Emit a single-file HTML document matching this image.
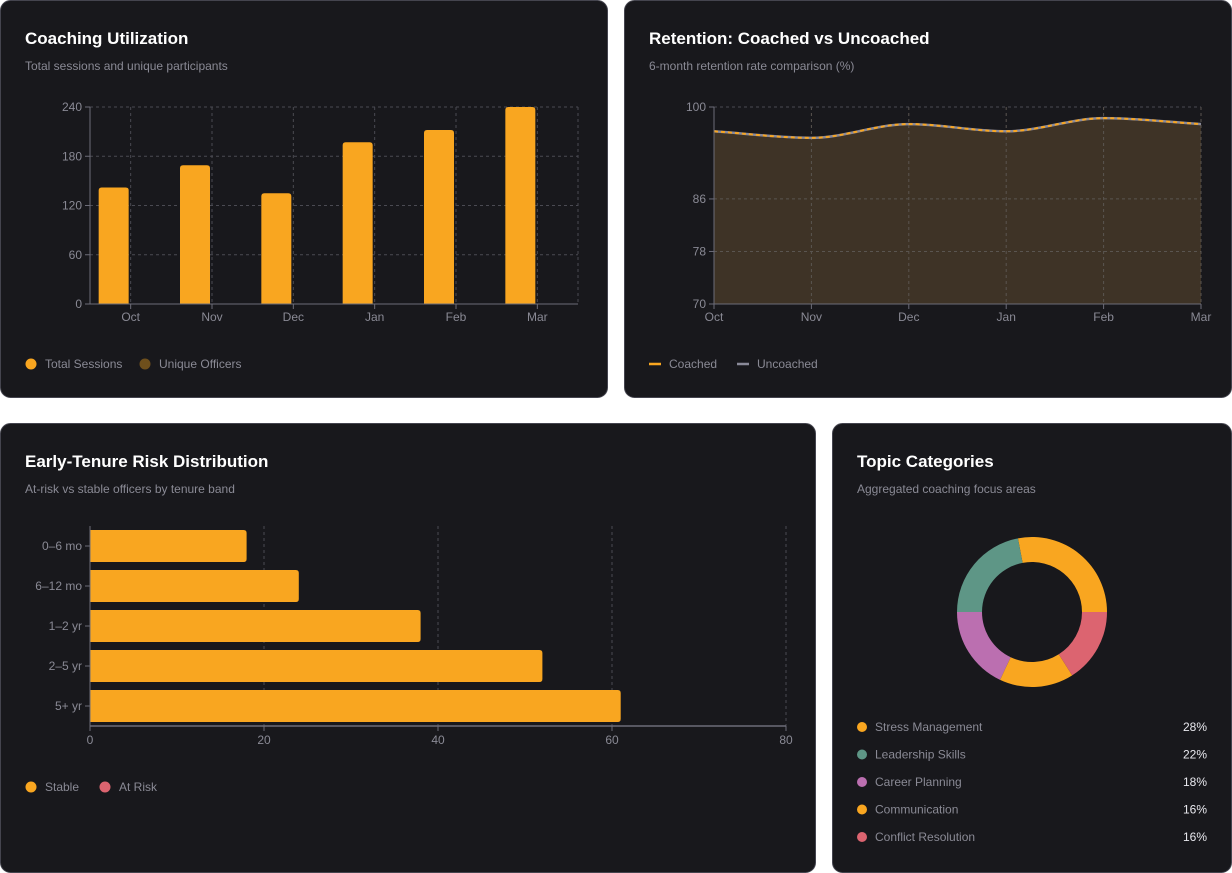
<!DOCTYPE html>
<html><head><meta charset="utf-8">
<style>
body{margin:0;background:#fff;width:1232px;height:873px;overflow:hidden;font-family:"Liberation Sans",sans-serif}
svg{display:block}
text{font-family:"Liberation Sans",sans-serif}
</style></head>
<body>
<svg id="s" width="1232" height="873">
<rect x="0.5" y="0.5" width="607" height="397" rx="10" fill="#18181c" stroke="#44444e"/>
<rect x="624.5" y="0.5" width="607" height="397" rx="10" fill="#18181c" stroke="#44444e"/>
<rect x="0.5" y="423.5" width="815" height="449" rx="10" fill="#18181c" stroke="#44444e"/>
<rect x="832.5" y="423.5" width="399" height="449" rx="10" fill="#18181c" stroke="#44444e"/>

<text x="25" y="44" fill="#fff" font-size="17" font-weight="bold">Coaching Utilization</text>
<text x="25" y="70" fill="#8a8a95" font-size="12">Total sessions and unique participants</text>
<text x="649" y="44" fill="#fff" font-size="17" font-weight="bold">Retention: Coached vs Uncoached</text>
<text x="649" y="70" fill="#8a8a95" font-size="12">6-month retention rate comparison (%)</text>
<text x="25" y="467" fill="#fff" font-size="17" font-weight="bold">Early-Tenure Risk Distribution</text>
<text x="25" y="493" fill="#8a8a95" font-size="12">At-risk vs stable officers by tenure band</text>
<text x="857" y="467" fill="#fff" font-size="17" font-weight="bold">Topic Categories</text>
<text x="857" y="493" fill="#8a8a95" font-size="12">Aggregated coaching focus areas</text>

<g id="g1"></g><g id="g2"></g><g id="g3"></g><g id="g4"></g>

<g>
<circle cx="31" cy="364" r="5.5" fill="#f9a620"/><text x="45" y="368" fill="#8a8a95" font-size="12">Total Sessions</text>
<circle cx="145" cy="364" r="5.5" fill="#6e4f1c"/><text x="159" y="368" fill="#8a8a95" font-size="12">Unique Officers</text>
</g>
<g>
<line x1="649" y1="364" x2="661" y2="364" stroke="#f9a620" stroke-width="2.5"/><text x="669" y="368" fill="#8a8a95" font-size="12">Coached</text>
<line x1="737" y1="364" x2="749" y2="364" stroke="#8a8a99" stroke-width="2.5"/><text x="757" y="368" fill="#8a8a95" font-size="12">Uncoached</text>
</g>
<g>
<circle cx="31" cy="787" r="5.5" fill="#f9a620"/><text x="45" y="791" fill="#8a8a95" font-size="12">Stable</text>
<circle cx="105" cy="787" r="5.5" fill="#dc6470"/><text x="119" y="791" fill="#8a8a95" font-size="12">At Risk</text>
</g>
</svg>
<script>
const NS='http://www.w3.org/2000/svg';
function mk(p,t,a){const e=document.createElementNS(NS,t);for(const k in a)e.setAttribute(k,a[k]);p.appendChild(e);return e;}

// Chart 1
const months=['Oct','Nov','Dec','Jan','Feb','Mar'];
const sessions=[142,169,135,197,212,240];
const officers=[0,0,0,0,0,0];
const ticks1=[0,60,120,180,240];
// Chart 2
const coached=[96.3,95.3,97.4,96.3,98.3,97.4];
const uncoached=[96.3,95.3,97.4,96.3,98.3,97.4];
const ticks2=[70,78,86,100];
// Chart 3
const bands=['0–6 mo','6–12 mo','1–2 yr','2–5 yr','5+ yr'];
const stable=[18,24,38,52,61];
const atRisk=[0,0,0,0,0];
const ticks3=[0,20,40,60,80];
// Chart 4
const topics=['Stress Management','Leadership Skills','Career Planning','Communication','Conflict Resolution'];
const shares=[28,22,18,16,16];
const topicColors=['#f9a620','#5e9686','#bb6fb0','#f9a620','#dc6470'];

const grid='#4a4a52', axis='#6c6c78', lbl='#8a8a95';

// ---- chart 1
(function(){
const g=document.getElementById('g1');
const x0=90,x1=578,y0=304,y1=107;
const ys=v=>y0-(v/240)*(y0-y1);
const bw=(x1-x0)/months.length;
ticks1.forEach(t=>{const y=ys(t);
 if(t>0){const l=mk(g,'line',{x1:x0,x2:x1,y1:y,y2:y,stroke:grid,'stroke-dasharray':'3 3'});
 }
 mk(g,'line',{x1:x0-5,x2:x0,y1:y,y2:y,stroke:axis});
 const tx=mk(g,'text',{x:x0-8,y:y+4,fill:lbl,'font-size':12,'text-anchor':'end'});tx.textContent=t;
 });
months.forEach((m,i)=>{const cx=x0+bw*(i+0.5);
 const l=mk(g,'line',{x1:cx,x2:cx,y1:y1,y2:y0,stroke:grid,'stroke-dasharray':'3 3'});
 
 mk(g,'line',{x1:cx,x2:cx,y1:y0,y2:y0+5,stroke:axis});
 const tx=mk(g,'text',{x:cx,y:y0+17,fill:lbl,'font-size':12,'text-anchor':'middle'});tx.textContent=m;
 
 const h=y0-ys(sessions[i]);
 const b=mk(g,'path',{d:`M${cx-32},${y0}V${y0-h+3}q0,-3 3,-3h24q3,0 3,3V${y0}Z`,fill:'#f9a620'});
 
 const h2=y0-ys(officers[i]);
 if(h2>0){const b2=mk(g,'rect',{x:cx+2,y:y0-h2,width:30,height:h2,fill:'#6e4f1c'});
 }
});
mk(g,'line',{x1:x1,x2:x1,y1:y1,y2:y0,stroke:grid,'stroke-dasharray':'3 3'});
mk(g,'line',{x1:x0,x2:x0,y1:y1,y2:y0,stroke:axis});
mk(g,'line',{x1:x0,x2:x1,y1:y0,y2:y0,stroke:axis});
})();

// ---- chart 2
(function(){
const g=document.getElementById('g2');
const x0=714,x1=1201,y0=304,y1=107;
const ys=v=>y0-((v-70)/30)*(y0-y1);
const xs=i=>x0+i*(x1-x0)/(months.length-1);
function mono(vals){
 const p=vals.map((v,i)=>[xs(i),ys(v)]);const n=p.length;
 const d=[],m=[];
 for(let i=0;i<n-1;i++)d.push((p[i+1][1]-p[i][1])/(p[i+1][0]-p[i][0]));
 m[0]=d[0];m[n-1]=d[n-2];
 for(let i=1;i<n-1;i++)m[i]=(d[i-1]*d[i]<=0)?0:2/(1/d[i-1]+1/d[i]);
 let s=`M${p[0][0]},${p[0][1]}`;
 for(let i=0;i<n-1;i++){const h=(p[i+1][0]-p[i][0])/3;
  s+=`C${p[i][0]+h},${p[i][1]+m[i]*h} ${p[i+1][0]-h},${p[i+1][1]-m[i+1]*h} ${p[i+1][0]},${p[i+1][1]}`;}
 return s;}
const area=mk(g,'path',{d:mono(coached)+`L${x1},${y0}L${x0},${y0}Z`,fill:'#3e3326'});

ticks2.forEach(t=>{const y=ys(t);
 if(t>70){const l=mk(g,'line',{x1:x0,x2:x1,y1:y,y2:y,stroke:'#5a5550','stroke-dasharray':'3 3'});
 }
 mk(g,'line',{x1:x0-5,x2:x0,y1:y,y2:y,stroke:axis});
 const tx=mk(g,'text',{x:x0-8,y:y+4,fill:lbl,'font-size':12,'text-anchor':'end'});tx.textContent=t;
 });
months.forEach((m,i)=>{const x=xs(i);
 if(i>0){const l=mk(g,'line',{x1:x,x2:x,y1:y1,y2:y0,stroke:'#5a5550','stroke-dasharray':'3 3'});
 }
 mk(g,'line',{x1:x,x2:x,y1:y0,y2:y0+5,stroke:axis});
 const tx=mk(g,'text',{x:x,y:y0+17,fill:lbl,'font-size':12,'text-anchor':i==0?'middle':(i==months.length-1?'middle':'middle')});tx.textContent=m;
 });
mk(g,'line',{x1:x0,x2:x1,y1:y1,y2:y1,stroke:grid,'stroke-dasharray':'3 3'});
const lu=mk(g,'path',{d:mono(uncoached),fill:'none',stroke:'#8a8a99','stroke-width':2.5});

const lc=mk(g,'path',{d:mono(coached),fill:'none',stroke:'#f9a620','stroke-width':2,'stroke-dasharray':'4 3'});

mk(g,'line',{x1:x0,x2:x0,y1:y1,y2:y0,stroke:axis});
mk(g,'line',{x1:x0,x2:x1,y1:y0,y2:y0,stroke:axis});
})();

// ---- chart 3
(function(){
const g=document.getElementById('g3');
const x0=90,x1=786,y0=726,yt=526;
const xs=v=>x0+(v/80)*(x1-x0);
const bh=(y0-yt)/bands.length;
ticks3.forEach(t=>{const x=xs(t);
 if(t>0){const l=mk(g,'line',{x1:x,x2:x,y1:yt,y2:y0,stroke:grid,'stroke-dasharray':'3 3'});
 }
 mk(g,'line',{x1:x,x2:x,y1:y0,y2:y0+5,stroke:axis});
 const tx=mk(g,'text',{x:x,y:y0+18,fill:lbl,'font-size':12,'text-anchor':'middle'});tx.textContent=t;
 });
bands.forEach((b,i)=>{const cy=yt+bh*(i+0.5);
 mk(g,'line',{x1:x0-5,x2:x0,y1:cy,y2:cy,stroke:axis});
 const tx=mk(g,'text',{x:x0-8,y:cy+4,fill:lbl,'font-size':12,'text-anchor':'end'});tx.textContent=b;
 
 const w=xs(stable[i])-x0;
 const r=mk(g,'path',{d:`M${x0},${cy-16}H${x0+w-3}q3,0 3,3V${cy+13}q0,3 -3,3H${x0}Z`,fill:'#f9a620'});
 
 const w2=xs(atRisk[i])-x0;
 if(w2>0){const r2=mk(g,'rect',{x:x0+w,y:cy-16,width:w2,height:32,fill:'#dc6470'});
 }
});
mk(g,'line',{x1:x0,x2:x0,y1:yt,y2:y0,stroke:axis});
mk(g,'line',{x1:x0,x2:x1,y1:y0,y2:y0,stroke:axis,'stroke-width':1.5});
})();

// ---- chart 4
(function(){
const g=document.getElementById('g4');
const cx=1032,cy=612,R=75,r=50;
const tot=shares.reduce((a,b)=>a+b,0);
let a=0;
shares.forEach((s,i)=>{
 const a2=a+s/tot*2*Math.PI;
 const P=(rad,ang)=>[cx+rad*Math.cos(ang),cy-rad*Math.sin(ang)];
 const [ax,ay]=P(R,a),[bx,by]=P(R,a2),[cx2,cy2]=P(r,a2),[dx,dy]=P(r,a);
 const lg=(a2-a)>Math.PI?1:0;
 const p=mk(g,'path',{d:`M${ax},${ay}A${R},${R} 0 ${lg} 0 ${bx},${by}L${cx2},${cy2}A${r},${r} 0 ${lg} 1 ${dx},${dy}Z`,fill:topicColors[i]});
 
 a=a2;
 const y=727+i*27.5;
 const c=mk(g,'circle',{cx:862,cy:y,r:5,fill:topicColors[i]});
 
 const t=mk(g,'text',{x:875,y:y+4,fill:lbl,'font-size':12});t.textContent=topics[i];
 
 const v=mk(g,'text',{x:1207,y:y+4,fill:'#e8e8ee','font-size':12,'text-anchor':'end'});v.textContent=s+'%';
 
});
})();
</script>
</body></html>
